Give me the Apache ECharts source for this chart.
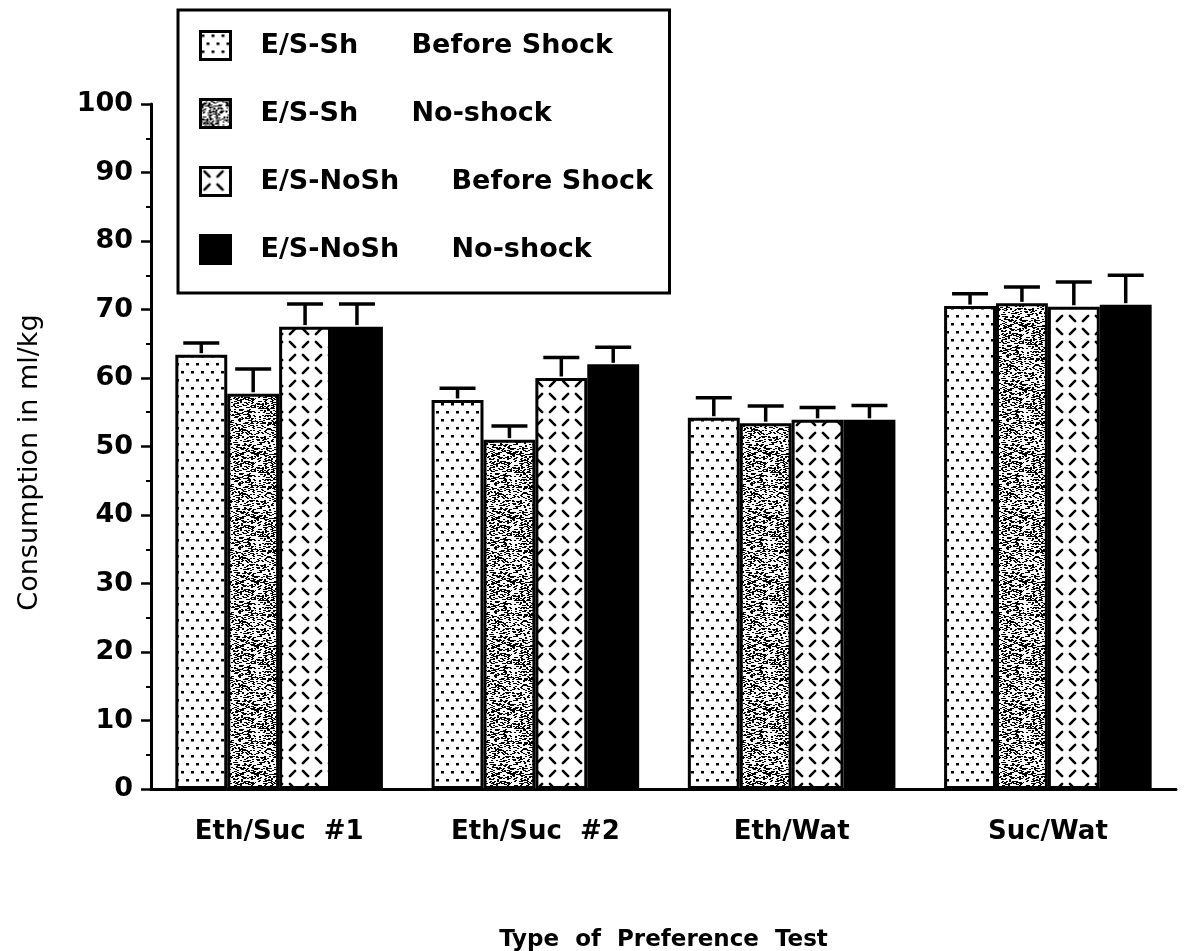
<!DOCTYPE html>
<html>
<head>
<meta charset="utf-8">
<script src="https://cdn.jsdelivr.net/npm/echarts@6/dist/echarts.min.js"></script>
<style>html,body{margin:0;padding:0;background:#fff}#chart{width:1186px;height:951px}</style>
</head>
<body>
<div id="chart"></div>
<script>
// ---- data ----
const categories = ['Eth/Suc  #1', 'Eth/Suc  #2', 'Eth/Wat', 'Suc/Wat'];
const seriesNames = ['E/S-Sh Before Shock', 'E/S-Sh No-shock', 'E/S-NoSh Before Shock', 'E/S-NoSh No-shock'];
const shBefore   = [63.4, 56.8, 54.2, 70.5];
const shNoShock  = [57.7, 51.0, 53.4, 70.9];
const noShBefore = [67.5, 60.0, 53.9, 70.4];
const noShNoShock= [67.5, 62.0, 53.9, 70.7];
const errShBefore   = [1.7, 1.7, 2.9, 1.8];
const errShNoShock  = [3.6, 2.0, 2.5, 2.4];
const errNoShBefore = [3.3, 3.0, 1.8, 3.6];
const errNoShNoShock= [3.3, 2.5, 2.1, 4.3];
const yTicks = [0, 10, 20, 30, 40, 50, 60, 70, 80, 90, 100];

const means = [shBefore, shNoShock, noShBefore, noShNoShock];
const errs = [errShBefore, errShNoShock, errNoShBefore, errNoShNoShock];

// ---- fill patterns ----
function tile(w, h, draw) {
  const c = document.createElement('canvas');
  c.width = w; c.height = h;
  const g = c.getContext('2d');
  g.fillStyle = '#fff'; g.fillRect(0, 0, w, h);
  draw(g);
  return c;
}
const dots = tile(10, 16, g => {
  g.fillStyle = '#000';
  g.fillRect(1, 3, 3, 2.5);
  g.fillRect(6, 11, 3, 2.5);
});
const speckle = tile(64, 64, g => {
  g.fillStyle = '#000';
  for (let y = 0; y < 64; y++) {
    for (let x = 0; x < 64; x++) {
      const v = Math.abs(Math.sin(x * 12.9898 + y * 78.233) * 43758.5453) % 1;
      if (v < 0.2) g.fillRect(x, y, 2, 1);
    }
  }
});
const lattice = tile(26, 26, g => {
  g.strokeStyle = '#000'; g.lineWidth = 2.6; g.lineCap = 'round';
  const d = 2.6;
  const seg = (cx, cy, s) => { g.beginPath(); g.moveTo(cx - d, cy - d * s); g.lineTo(cx + d, cy + d * s); g.stroke(); };
  seg(6.5, 6.5, 1); seg(19.5, 19.5, 1);
  seg(19.5, 6.5, -1); seg(6.5, 19.5, -1);
});
const fills = [
  { image: dots, repeat: 'repeat' },
  { image: speckle, repeat: 'repeat' },
  { image: lattice, repeat: 'repeat' },
  '#000'
];

const FONT = 'DejaVu Sans';
const GAP = 0.19;

const barSeries = seriesNames.map((name, j) => ({
  name: name,
  type: 'bar',
  data: means[j],
  barGap: '0%',
  barCategoryGap: (GAP * 100) + '%',
  itemStyle: { color: fills[j], borderColor: '#000', borderWidth: 3 },
  z: 2
}));

const errSeries = seriesNames.map((name, j) => ({
  name: name,
  type: 'custom',
  data: means[j].map((m, i) => [i, m, errs[j][i]]),
  encode: { x: 0, y: 1 },
  z: 3,
  renderItem: function (params, api) {
    const ci = api.value(0), m = api.value(1), e = api.value(2);
    const base = api.coord([ci, m]);
    const band = api.size([1, 0])[0];
    const bw = band * (1 - GAP) / 4;
    const x = base[0] + (j - 1.5) * bw;
    const top = base[1] - 1.5;
    const capY = api.coord([ci, m + e])[1];
    const style = { stroke: '#000', lineWidth: 3.5 };
    return {
      type: 'group',
      children: [
        { type: 'line', shape: { x1: x, y1: top, x2: x, y2: capY }, style: style },
        { type: 'line', shape: { x1: x - 18, y1: capY, x2: x + 18, y2: capY }, style: style }
      ]
    };
  }
}));

const rs = (w, extra) => Object.assign({ fontFamily: FONT, fontSize: 27, fontWeight: 'bold', color: '#000', width: w, lineHeight: 28 }, extra || {});

const chart = echarts.init(document.getElementById('chart'), null, { renderer: 'canvas' });
chart.setOption({
  animation: false,
  backgroundColor: '#fff',
  textStyle: { fontFamily: FONT, color: '#000' },
  grid: { left: 151, right: 10, top: 104, bottom: 162, containLabel: false, outerBoundsMode: 'none' },
  legend: {
    data: seriesNames,
    orient: 'vertical',
    left: 178,
    top: 10,
    padding: [20, 8, 28, 21],
    itemWidth: 30,
    itemHeight: 28,
    itemGap: 37,
    icon: 'rect',
    borderColor: '#000',
    borderWidth: 3,
    backgroundColor: '#fff',
    selectedMode: false,
    itemStyle: { borderColor: '#000', borderWidth: 3 },
    formatter: function (name) {
      const k = seriesNames.indexOf(name);
      const sp = name.indexOf(' ');
      const grp = name.slice(0, sp), cond = name.slice(sp + 1);
      return '{' + (k < 2 ? 'a1' : 'a2') + '|' + grp + '}{' + (k < 2 ? 'b1' : 'b2') + '|' + cond + '}';
    },
    textStyle: {
      fontFamily: FONT, fontSize: 27, fontWeight: 'bold', color: '#000',
      rich: {
        a1: rs(151, { padding: [0, 0, 0, 25] }),
        a2: rs(191, { padding: [0, 0, 0, 25] }),
        b1: rs(250),
        b2: rs(210)
      }
    }
  },
  xAxis: {
    type: 'category',
    data: categories,
    name: 'Type  of  Preference  Test',
    nameLocation: 'middle',
    nameGap: 140,
    nameTextStyle: { fontFamily: FONT, fontSize: 23, fontWeight: 'bold', color: '#000' },
    axisLine: { lineStyle: { color: '#000', width: 3 } },
    axisTick: { show: false },
    axisLabel: { fontFamily: FONT, fontSize: 26, fontWeight: 'bold', color: '#000', margin: 30 },
    splitLine: { show: false }
  },
  yAxis: {
    type: 'value',
    min: yTicks[0],
    max: yTicks[yTicks.length - 1],
    interval: yTicks[1] - yTicks[0],
    name: 'Consumption in ml/kg',
    nameLocation: 'middle',
    nameGap: 108,
    nameRotate: 90,
    nameTextStyle: { fontFamily: FONT, fontSize: 27, color: '#000', padding: [0, 32, 0, 0] },
    axisLine: { show: true, lineStyle: { color: '#000', width: 3 } },
    axisTick: { show: true, inside: false, length: 10, lineStyle: { color: '#000', width: 2.5 } },
    minorTick: { show: true, splitNumber: 2, length: 5, lineStyle: { color: '#000', width: 2 } },
    axisLabel: { fontFamily: FONT, fontSize: 27, fontWeight: 'bold', color: '#000', margin: 18 },
    splitLine: { show: false }
  },
  series: barSeries.concat(errSeries)
});
</script>
</body>
</html>
